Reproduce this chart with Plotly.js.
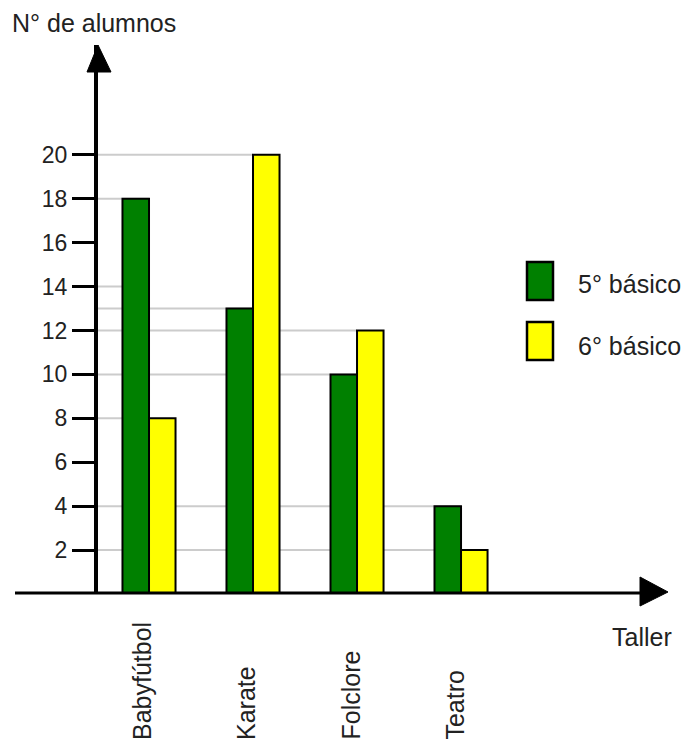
<!DOCTYPE html>
<html>
<head>
<meta charset="utf-8">
<script src="https://cdn.plot.ly/plotly-3.0.1.min.js"></script>
<style>html,body{margin:0;padding:0;background:#fff;}#chart{width:691px;height:744px;}</style>
</head>
<body>
<div id="chart"></div>
<script>
// ---- data ----
const categories = ['Babyfútbol', 'Karate', 'Folclore', 'Teatro'];
const seriesNames = ['5° básico', '6° básico'];
const quinto = [18, 13, 10, 4];
const sexto = [8, 20, 12, 2];
const yTickVals = [2, 4, 6, 8, 10, 12, 14, 16, 18, 20];
// guide lines drawn from the y axis to a bar
const guideVals = [20, 18, 14, 13, 12, 10, 8, 4, 2];
const guideEnds = ['Karate', 'Babyfútbol', 'Babyfútbol', 'Karate', 'Folclore', 'Folclore', 'Babyfútbol', 'Teatro', 'Teatro'];
const yTitle = 'N° de alumnos';
const xTitle = 'Taller';

// ---- layout geometry (pixels) ----
const L = 98, R = 668, T = 45, B = 594;
const W = R - L, H = B - T;
const px = x => (x - L) / W;
const py = y => (B - y) / H;
const xRange = [-0.4904, 4.990];
const font = 'Liberation Sans, Arial, sans-serif';
const txt = '#222';

const traces = [
  {type: 'bar', x: categories, y: quinto, name: seriesNames[0],
   marker: {color: '#008000', line: {color: '#000', width: 2}}, hoverinfo: 'none'},
  {type: 'bar', x: categories, y: sexto, name: seriesNames[1],
   marker: {color: '#ffff00', line: {color: '#000', width: 2}}, hoverinfo: 'none'}
];

const shapes = [];
guideVals.forEach((v, i) => {
  shapes.push({type: 'line', xref: 'x', yref: 'y', layer: 'below',
    x0: xRange[0], x1: categories.indexOf(guideEnds[i]), y0: v, y1: v,
    line: {color: '#cccccc', width: 2}});
});
// x axis line with arrow
shapes.push({type: 'line', xref: 'paper', yref: 'paper', x0: px(15), x1: px(645), y0: py(593), y1: py(593),
  line: {color: '#000', width: 3}});
shapes.push({type: 'path', xref: 'paper', yref: 'paper',
  path: `M ${px(640)} ${py(577)} L ${px(668)} ${py(592)} L ${px(640)} ${py(606)} Z`,
  fillcolor: '#000', line: {color: '#000', width: 1}});
// y axis arrow head
shapes.push({type: 'path', xref: 'paper', yref: 'paper',
  path: `M ${px(87)} ${py(72)} L ${px(98)} ${py(45)} L ${px(111)} ${py(72)} Z`,
  fillcolor: '#000', line: {color: '#000', width: 1}});
// legend swatches
const swColors = ['#008000', '#ffff00'];
const swTop = [262, 322];
swColors.forEach((c, i) => {
  shapes.push({type: 'rect', xref: 'paper', yref: 'paper',
    x0: px(527), x1: px(553), y0: py(swTop[i]), y1: py(swTop[i] + 38),
    fillcolor: c, line: {color: '#000', width: 2.5}});
});

const annotations = [];
categories.forEach(c => {
  annotations.push({xref: 'x', yref: 'paper', x: categories.indexOf(c), y: py(742),
    xshift: -7, text: c, textangle: -90, showarrow: false, xanchor: 'center', yanchor: 'bottom',
    font: {family: font, size: 25, color: txt}});
});
annotations.push({xref: 'paper', yref: 'paper', x: px(10), y: py(23), text: yTitle, showarrow: false,
  xanchor: 'left', yanchor: 'middle', font: {family: font, size: 25, color: txt}});
annotations.push({xref: 'paper', yref: 'paper', x: px(610), y: py(637), text: xTitle, showarrow: false,
  xanchor: 'left', yanchor: 'middle', font: {family: font, size: 25, color: txt}});
const legY = [284, 346];
seriesNames.forEach((n, i) => {
  annotations.push({xref: 'paper', yref: 'paper', x: px(576), y: py(legY[i]), text: n, showarrow: false,
    xanchor: 'left', yanchor: 'middle', font: {family: font, size: 25, color: txt}});
});

const layout = {
  width: 691, height: 744,
  margin: {l: L, r: 691 - R, t: T, b: 744 - B, pad: 0},
  paper_bgcolor: '#fff', plot_bgcolor: '#fff',
  showlegend: false,
  barmode: 'group', bargap: 0.49, bargroupgap: 0,
  font: {family: font, size: 23, color: txt},
  xaxis: {type: 'category', range: xRange, showline: false, showgrid: false, zeroline: false,
    ticks: '', showticklabels: false, fixedrange: true},
  yaxis: {range: [0, 25], tickvals: yTickVals, showgrid: false, zeroline: false,
    showline: true, linecolor: '#000', linewidth: 4, mirror: false,
    ticks: 'outside', ticklen: 22, tickwidth: 3, tickcolor: '#000',
    tickfont: {family: font, size: 23, color: txt}, fixedrange: true},
  shapes: shapes,
  annotations: annotations
};

Plotly.newPlot('chart', traces, layout, {displayModeBar: false, staticPlot: true});
</script>
</body>
</html>
